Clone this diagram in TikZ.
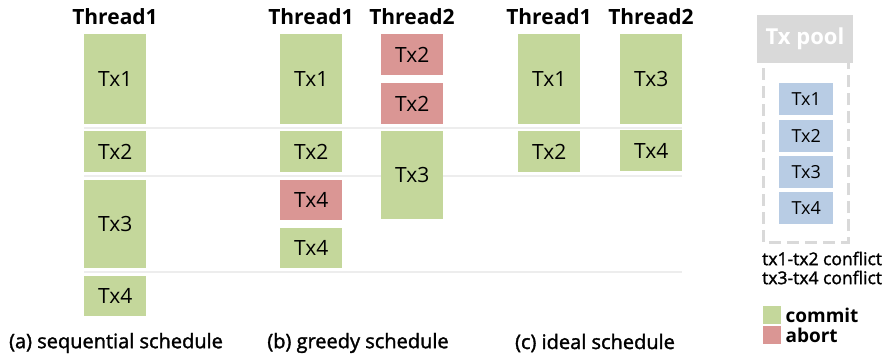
\documentclass[tikz,border=0pt]{standalone}
\usepackage{fontspec}
\setmainfont{Open Sans}
\newfontfamily\medfont[FakeBold=1.6]{Open Sans}
\usetikzlibrary{positioning}
\definecolor{commitgreen}{HTML}{C4D79B}
\definecolor{abortred}{HTML}{DA9694}
\definecolor{poolblue}{HTML}{B8CCE4}
\definecolor{sepgray}{HTML}{EDEDED}
\definecolor{poolgray}{HTML}{D9D9D9}
\begin{document}
\begin{tikzpicture}[x=1pt,y=-1pt]

\tikzstyle{tx}=[anchor=north west, inner sep=0pt, minimum width=62pt, font=\fontsize{21}{23}\selectfont]
\tikzstyle{commit}=[tx, fill=commitgreen]
\tikzstyle{abort}=[tx, fill=abortred]
\tikzstyle{thread}=[font=\fontsize{21}{23}\selectfont\bfseries]
\tikzstyle{caption}=[font=\fontsize{20}{22}\selectfont\medfont]
\tikzstyle{sep}=[draw=sepgray, line width=2pt]
\tikzstyle{pooltx}=[anchor=north west, inner sep=0pt, minimum width=54pt, minimum height=32pt, fill=poolblue, font=\fontsize{18}{20}\selectfont]
\tikzstyle{key}=[anchor=north west, inner sep=0pt, minimum size=18pt]

\useasboundingbox (0,0) rectangle (895,359);

\draw[sep] (84,127.5) -- (682,127.5);
\draw[sep] (84,176) -- (682,176);
\draw[sep] (84,272) -- (682,272);

% (a) sequential
\node[thread] (seqth) at (115,17) {Thread1};
\node[commit, minimum height=90pt] (seqtx1) at (84,34) {Tx1};
\node[commit, minimum height=41pt] (seqtx2) at (84,131) {Tx2};
\node[commit, minimum height=88pt] (seqtx3) at (84,180) {Tx3};
\node[commit, minimum height=40pt] (seqtx4) at (84,276) {Tx4};
\node[caption] (seqcap) at (116,343) {(a) sequential schedule};

% (b) greedy
\node[thread] (grdthA) at (311,17) {Thread1};
\node[thread] (grdthB) at (412,17) {Thread2};
\node[commit, minimum height=90pt] (grdtx1) at (280,34) {Tx1};
\node[commit, minimum height=41pt] (grdtx2) at (280,131) {Tx2};
\node[abort, minimum height=40pt] (grdtx4a) at (280,180) {Tx4};
\node[commit, minimum height=40pt] (grdtx4b) at (280,228) {Tx4};
\node[abort, minimum height=41pt] (grdtx2a) at (381,34) {Tx2};
\node[abort, minimum height=41pt] (grdtx2b) at (381,83) {Tx2};
\node[commit, minimum height=88pt] (grdtx3) at (381,131) {Tx3};
\node[caption] (grdcap) at (358,343) {(b) greedy schedule};

% (c) ideal
\node[thread] (idlthA) at (549,17) {Thread1};
\node[thread] (idlthB) at (651,17) {Thread2};
\node[commit, minimum height=90pt] (idltx1) at (518,34) {Tx1};
\node[commit, minimum height=41pt] (idltx2) at (518,131) {Tx2};
\node[commit, minimum height=90pt] (idltx3) at (620,34) {Tx3};
\node[commit, minimum height=41pt] (idltx4) at (620,130) {Tx4};
\node[caption] (idlcap) at (595,343) {(c) ideal schedule};

% pool and legend
\draw[poolgray, line width=3pt, dash pattern=on 12pt off 6pt] (763,50) rectangle (848,242);
\node[fill=poolgray, text=white, minimum width=96pt, minimum height=48pt, inner sep=0pt,
  font=\fontsize{22}{24}\selectfont\bfseries] (pool) at (805,39) {Tx pool};
\node[pooltx] (pooltx1) at (779,83) {Tx1};
\node[pooltx] (pooltx2) at (779,120) {Tx2};
\node[pooltx] (pooltx3) at (779,156) {Tx3};
\node[pooltx] (pooltx4) at (779,192) {Tx4};
\node[anchor=west, inner sep=0pt, align=left, font=\fontsize{17.5}{19}\selectfont\medfont] (conflicts) at (762,268)
  {tx1-tx2 conflict\\tx3-tx4 conflict};
\node[key, fill=commitgreen] (commitkey) at (763,306) {};
\node[key, fill=abortred] (abortkey) at (763,326) {};
\node[right=4pt of commitkey, inner sep=0pt, font=\fontsize{19}{21}\selectfont\bfseries] (committxt) {commit};
\node[right=4pt of abortkey, inner sep=0pt, font=\fontsize{19}{21}\selectfont\bfseries] (aborttxt) {abort};
\end{tikzpicture}
\end{document}
